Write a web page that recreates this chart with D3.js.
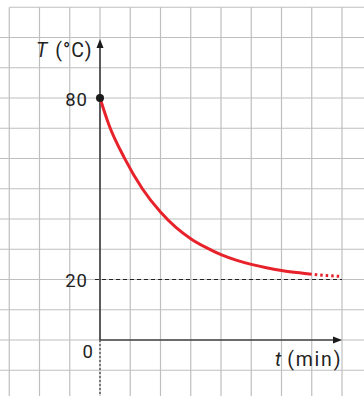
<!DOCTYPE html>
<html><head><meta charset="utf-8">
<script src="https://cdn.jsdelivr.net/npm/d3@7"></script>
<style>html,body{margin:0;padding:0;background:#fff;}svg{display:block;}</style>
</head><body>
<script>
// Data
const timeValues  = [0, 0.3, 0.8, 1.4, 2, 2.5, 3, 3.5, 4, 4.5, 5, 5.5, 6, 6.5, 7];
const tempValues  = [80, 71, 60.3, 50, 42.3, 37.3, 33.5, 30.6, 28.2, 26.4, 25.0, 23.9, 23.0, 22.3, 21.7];
const dottedTime  = [7, 7.5, 8];
const dottedTemp  = [21.7, 21.3, 21.0];
const yTickValues = [80, 20];
const yTickLabels = ["80", "20"];
const asymptote   = 20;
const startPoint  = [0, 80];

const W = 364, H = 396;
const svg = d3.select("body").append("svg").attr("width", W).attr("height", H);

const x = d3.scaleLinear().domain([0, 8]).range([100, 342]);
const y = d3.scaleLinear().domain([0, 80]).range([340, 98]);

// grid
const gx = d3.range(-3, 9, 1);
const gy = d3.range(-10, 111, 10);
const grid = svg.append("g").attr("stroke", "#bfbfbf").attr("stroke-width", 1.2);
grid.selectAll("line.v").data(gx).join("line")
  .attr("x1", d => x(d)).attr("x2", d => x(d))
  .attr("y1", y(110)).attr("y2", H);
grid.selectAll("line.h").data(gy).join("line")
  .attr("x1", d => d === 110 ? x(-3) : 0).attr("x2", W)
  .attr("y1", d => y(d)).attr("y2", d => y(d));

// asymptote dashed line
svg.append("line")
  .attr("x1", x(0) - 5).attr("x2", x(8))
  .attr("y1", y(asymptote)).attr("y2", y(asymptote))
  .attr("stroke", "#222").attr("stroke-width", 1).attr("stroke-dasharray", "4,3");

// axes
const axisColor = "#1a1a1a";
svg.append("line").attr("x1", x(0)).attr("x2", x(0)).attr("y1", y(0)).attr("y2", 46)
  .attr("stroke", axisColor).attr("stroke-width", 1.3);
svg.append("path").attr("d", `M${x(0)},39 L${x(0)-3.5},48 L${x(0)+3.5},48 Z`).attr("fill", axisColor);
svg.append("line").attr("x1", x(0)).attr("x2", x(0)).attr("y1", y(0)).attr("y2", H)
  .attr("stroke", axisColor).attr("stroke-width", 1).attr("stroke-dasharray", "2,2");
svg.append("line").attr("x1", x(0)).attr("x2", x(8) - 7).attr("y1", y(0)).attr("y2", y(0))
  .attr("stroke", "#444").attr("stroke-width", 1.5);
svg.append("path").attr("d", `M${x(8)},${y(0)} L${x(8)-9},${y(0)-3.5} L${x(8)-9},${y(0)+3.5} Z`).attr("fill", axisColor);

// curve
const line = d3.line().x(d => x(d[0])).y(d => y(d[1])).curve(d3.curveMonotoneX);
svg.append("path").datum(timeValues.map((t, i) => [t, tempValues[i]]))
  .attr("d", line).attr("fill", "none").attr("stroke", "#e8222a").attr("stroke-width", 3);
svg.append("path").datum(dottedTime.map((t, i) => [t, dottedTemp[i]]))
  .attr("d", line).attr("fill", "none").attr("stroke", "#e8222a").attr("stroke-width", 3)
  .attr("stroke-dasharray", "2.5,3").attr("stroke-dashoffset", -3);

// start point
svg.append("circle").attr("cx", x(startPoint[0])).attr("cy", y(startPoint[1])).attr("r", 4).attr("fill", "#1a1a1a");

// labels
const font = "Roboto, 'Liberation Sans', sans-serif";
svg.selectAll("text.yt").data(yTickValues).join("text")
  .attr("x", 88).attr("y", d => y(d) + 7.5)
  .attr("text-anchor", "end").attr("font-family", font).attr("font-size", 18.5)
  .attr("letter-spacing", 1).attr("fill", "#222")
  .text((d, i) => yTickLabels[i]);
svg.append("text").attr("x", 94).attr("y", 358).attr("text-anchor", "end")
  .attr("font-family", font).attr("font-size", 18.5).attr("letter-spacing", 1).attr("fill", "#222").text("0");

const yl = svg.append("text").attr("x", 36).attr("y", 57)
  .attr("font-family", font).attr("font-size", 19.5).attr("fill", "#222");
yl.append("tspan").attr("font-style", "italic").text("T");
yl.append("tspan").attr("dx", 8).attr("letter-spacing", 1).text("(°C)");

const xl = svg.append("text").attr("x", 275).attr("y", 366)
  .attr("font-family", font).attr("font-size", 19.5).attr("fill", "#222");
xl.append("tspan").attr("font-style", "italic").text("t");
xl.append("tspan").attr("dx", 6).attr("letter-spacing", 1.8).text("(min)");
</script>
</body></html>
